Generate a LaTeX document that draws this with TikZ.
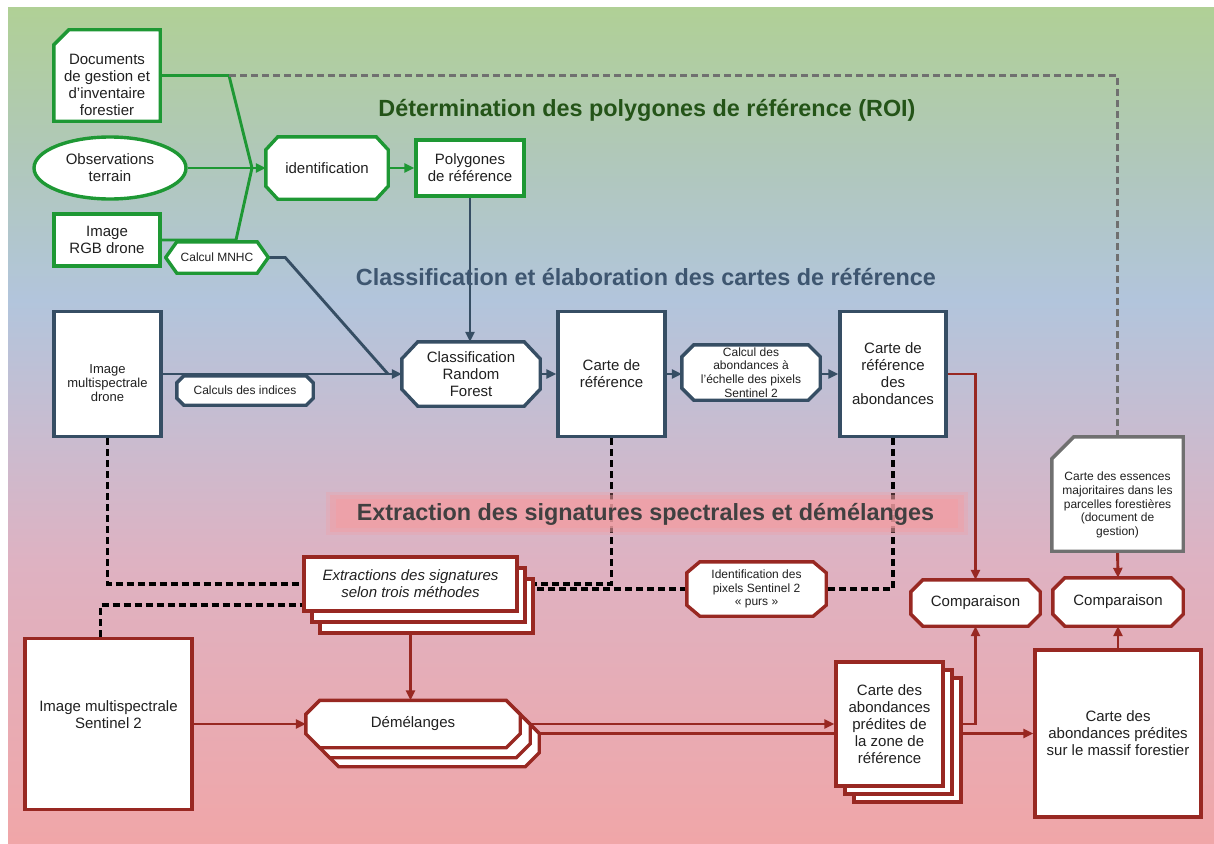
\documentclass[tikz,border=0pt]{standalone}
\usepackage{fontspec}
\setmainfont{Liberation Sans}
\usetikzlibrary{arrows.meta,shapes.geometric,calc}
\pgfdeclarelayer{bgl}
\pgfdeclarelayer{lines}
\pgfdeclarelayer{shapes}
\pgfsetlayers{bgl,lines,shapes,main}

\definecolor{cgreen}{RGB}{30,152,52}
\definecolor{cblue}{RGB}{54,78,100}
\definecolor{cred}{RGB}{152,40,34}
\definecolor{cgray}{RGB}{112,112,112}
\definecolor{tgreen}{RGB}{36,84,24}
\definecolor{tblue}{RGB}{62,86,112}
\definecolor{tgray}{RGB}{64,64,64}
\definecolor{txt}{RGB}{32,32,32}
\definecolor{bgA}{RGB}{176,208,150}
\definecolor{bgB}{RGB}{176,200,184}
\definecolor{bgC}{RGB}{178,197,220}
\definecolor{bgD}{RGB}{200,188,208}
\definecolor{bgE}{RGB}{222,178,194}
\definecolor{bgF}{RGB}{240,166,168}
\definecolor{band}{RGB}{242,158,164}

\newcommand\chamf[4]{\path[#4] ([xshift=#2]#1.north west) -- ([xshift=-#2]#1.north east) -- ([yshift=-#3]#1.north east) -- ([yshift=#3]#1.south east) -- ([xshift=-#2]#1.south east) -- ([xshift=#2]#1.south west) -- ([yshift=#3]#1.south west) -- ([yshift=-#3]#1.north west) -- cycle;}
\newcommand\cardpath[3]{\path[#3] ([yshift=-#2]#1.north west) -- ([xshift=#2]#1.north west) -- (#1.north east) -- (#1.south east) -- (#1.south west) -- cycle;}

\tikzset{
  lab/.style={font=\fontsize{15}{17}\selectfont, text=txt, align=center, inner sep=0pt},
  small/.style={font=\fontsize{12}{13.6}\selectfont},
  gbox/.style={draw=cgreen, line width=3.4pt, fill=white},
  bbox/.style={draw=cblue, line width=3.4pt, fill=white},
  rbox/.style={draw=cred, line width=3.4pt, fill=white},
  xbox/.style={draw=cgray, line width=3.4pt, fill=white},
  gl/.style={draw=cgreen, line width=2.9pt},
  bl/.style={draw=cblue, line width=2.9pt},
  rl/.style={draw=cred, line width=2.9pt},
  bdash/.style={draw=black, line width=3.3pt, dash pattern=on 7pt off 4pt},
  gdash/.style={draw=cgray, line width=2.9pt, dash pattern=on 6.5pt off 4.5pt},
  arr/.style={-{Triangle[length=10pt,width=9pt]}},
  title/.style={font=\fontsize{23.4}{28}\selectfont\bfseries, inner sep=0pt, anchor=base},
}

\begin{document}
\begin{tikzpicture}[x=1pt,y=-1pt]
\useasboundingbox (0,0) rectangle (1214,843);

% ---------- background ----------
\begin{pgfonlayer}{bgl}
  \fill[white] (0,0) rectangle (1214,843);
  \shade[top color=bgA, bottom color=bgB] (8,8) rectangle (1214,151);
  \shade[top color=bgB, bottom color=bgC] (8,150) rectangle (1214,301);
  \shade[top color=bgC, bottom color=bgD] (8,300) rectangle (1214,431);
  \shade[top color=bgD, bottom color=bgE] (8,430) rectangle (1214,561);
  \shade[top color=bgE, bottom color=bgF] (8,560) rectangle (1214,843);
\end{pgfonlayer}

% ---------- nodes : green part ----------
\node[lab, minimum width=106pt, minimum height=91pt] (docs) at (107,75.5) {};
\node[lab] (docst) at (107,85) {Documents\\de gestion et\\d’inventaire\\forestier};
\node[lab, ellipse, draw=cgreen, line width=3.4pt, fill=white, minimum width=152pt, minimum height=62pt] (obs) at (110,168) {Observations\\terrain};
\node[lab, gbox, minimum width=106pt, minimum height=52pt] (rgb) at (107,240) {Image\\RGB drone};
\node[lab, small, minimum width=102pt, minimum height=31pt] (mnhc) at (217,257.5) {Calcul MNHC};
\node[lab, minimum width=122pt, minimum height=62pt] (ident) at (327,168) {identification};
\node[lab, gbox, minimum width=108pt, minimum height=56pt] (poly) at (470,168) {Polygones\\de référence};

% ---------- nodes : blue part ----------
\node[lab, bbox, minimum width=107pt, minimum height=125pt] (msd) at (107.5,374) {};
\node[lab, font=\fontsize{13}{14}\selectfont] (msdt) at (107.5,383) {Image\\multispectrale\\drone};
\node[lab, small, minimum width=136pt, minimum height=29pt] (indices) at (245,390.5) {Calculs des indices};
\node[lab, minimum width=138pt, minimum height=64pt] (rf) at (471,374) {Classification\\Random\\Forest};
\node[lab, bbox, minimum width=107pt, minimum height=125pt] (cref) at (611.5,374) {Carte de\\référence};
\node[lab, small, minimum width=138pt, minimum height=55pt] (cab) at (751,372.5) {Calcul des\\abondances à\\l’échelle des pixels\\Sentinel 2};
\node[lab, bbox, minimum width=106pt, minimum height=125pt] (crefab) at (893,374) {Carte de\\référence\\des\\abondances};

% ---------- nodes : red part ----------
\node[lab, minimum width=129pt, minimum height=46pt] (comp1) at (975.5,603) {Comparaison};
\node[lab, minimum width=131pt, minimum height=114pt] (ess) at (1117.5,494) {};
\node[lab, small] (esst) at (1117.5,505) {Carte des essences\\majoritaires dans les\\parcelles forestières\\(document de\\gestion)};
\node[lab, minimum width=130pt, minimum height=48pt] (comp2) at (1118,602) {Comparaison};

\node[rbox, minimum width=213pt, minimum height=54pt] (extr3) at (426.5,606) {};
\node[rbox, minimum width=213pt, minimum height=54pt] (extr2) at (418.5,595) {};
\node[lab, rbox, font=\fontsize{15}{17}\selectfont\itshape, minimum width=213pt, minimum height=54pt] (extr) at (410.5,584) {Extractions des signatures\\selon trois méthodes};

\node[lab, small, minimum width=139pt, minimum height=54pt] (idpix) at (756.5,589) {Identification des\\pixels Sentinel 2\\«~purs~»};

\node[lab, rbox, minimum width=167pt, minimum height=171pt] (s2) at (108.5,724) {};
\node[lab] (s2t) at (108.5,715) {Image multispectrale\\Sentinel 2};

\node[minimum width=214pt, minimum height=47pt, inner sep=0pt] (dem3) at (432,743) {};
\node[minimum width=214pt, minimum height=47pt, inner sep=0pt] (dem2) at (423,734) {};
\node[lab, minimum width=214pt, minimum height=47pt] (dem) at (413,724) {Démélanges};

\node[rbox, minimum width=107pt, minimum height=124pt] (cap3) at (907.5,740) {};
\node[rbox, minimum width=107pt, minimum height=124pt] (cap2) at (898.5,732) {};
\node[lab, rbox, minimum width=107pt, minimum height=124pt] (cap) at (889.5,724) {Carte des\\abondances\\prédites de\\la zone de\\référence};

\node[lab, rbox, minimum width=166pt, minimum height=167pt] (cmas) at (1118,733.5) {Carte des\\abondances prédites\\sur le massif forestier};

% ---------- titles ----------
\node[title, text=tgreen] (t1) at (647,116.5) {Détermination des polygones de référence (ROI)};
\node[title, text=tblue] (t2) at (646,285.5) {Classification et élaboration des cartes de référence};
\node[title, text=tgray] (t3) at (645.5,520.5) {Extraction des signatures spectrales et démélanges};

% ---------- shapes ----------
\begin{pgfonlayer}{shapes}
  \fill[band, opacity=0.3] (326,492) rectangle (968,535);
  \fill[band, opacity=0.45] (330,495) rectangle (964,532);
  \fill[band, opacity=0.6] (336,499) rectangle (958,528);
  \cardpath{docs}{15pt}{gbox}
  \chamf{mnhc}{11pt}{15.5pt}{gbox}
  \chamf{ident}{12pt}{13pt}{gbox}
  \chamf{indices}{7pt}{7pt}{bbox}
  \chamf{rf}{16pt}{17pt}{bbox}
  \chamf{cab}{12pt}{12pt}{bbox}
  \chamf{comp1}{12pt}{12pt}{rbox}
  \chamf{comp2}{12pt}{12pt}{rbox}
  \cardpath{ess}{22pt}{xbox}
  \chamf{idpix}{13pt}{11pt}{rbox}
  \chamf{dem3}{14pt}{14pt}{rbox}
  \chamf{dem2}{14pt}{14pt}{rbox}
  \chamf{dem}{14pt}{14pt}{rbox}
\end{pgfonlayer}

% ---------- connectors ----------
\begin{pgfonlayer}{lines}
  \coordinate (jd) at (229,75.5);
  \coordinate (jr) at (236,240);
  \coordinate (jn) at (252,168);
  \coordinate (jb) at (388,374);
  % green
  \draw[gl] (docs.east) -- (jd) -- (jn);
  \draw[gl] (rgb.east) -- (jr) -- (jn);
  \draw[gl, arr] (obs.east) -- (ident.west);
  \draw[gl, arr] (ident.east) -- (poly.west);
  % gray dashed
  \draw[gdash] (jd) -- (ess.north |- jd) -- (ess.north);
  % blue
  \draw[bl, arr] (poly.south) -- (poly.south |- rf.north);
  \draw[bl, arr] (msd.east) -- (rf.west);
  \draw[bl] (mnhc.east) -- ++(17,0) -- (jb);
  \draw[bl, arr] (rf.east) -- (cref.west);
  \draw[bl, arr] (cref.east) -- (cref.east -| cab.west);
  \draw[bl, arr] (cab.east |- crefab.west) -- (crefab.west);
  % red
  \draw[rl, arr] (crefab.east) -- (crefab.east -| comp1.north) -- (comp1.north);
  \draw[rl, arr] (ess.south) -- (comp2.north);
  \draw[rl, arr] (extr.south) -- (extr.south |- dem.north);
  \draw[rl, arr] (s2.east) -- (dem.west);
  \draw[rl, arr] (dem.east) -- (cap.west);
  \draw[rl, arr] (dem.east |- cmas.west) -- (cmas.west);
  \draw[rl, arr] (cap.east) -- (cap.east -| comp1.south) -- (comp1.south);
  \draw[rl, arr] (cmas.north) -- (comp2.south);
  % black dashed
  \draw[bdash] (msd.south) |- (extr.west);
  \draw[bdash] ([xshift=-8pt]s2.north) |- ([yshift=-21pt]extr.west);
  \draw[bdash] (cref.south) |- (extr.east);
  \draw[bdash] (crefab.south) |- (idpix.east);
  \draw[bdash] (idpix.west) -- (extr.east |- idpix.west);
\end{pgfonlayer}
\end{tikzpicture}
\end{document}
